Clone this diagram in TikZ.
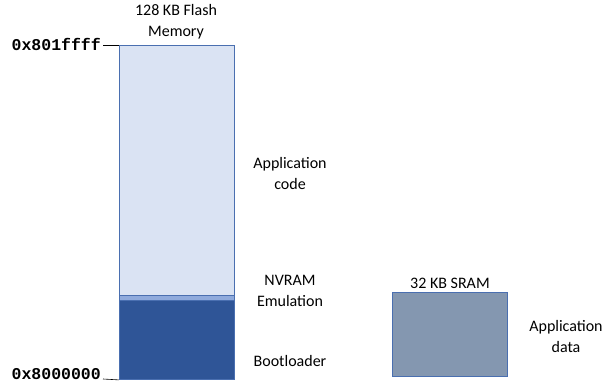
\documentclass[tikz,border=0pt]{standalone}
\usepackage{fontspec}
\setmainfont{Carlito}
\newfontfamily\addrfont{Liberation Mono}
\usetikzlibrary{positioning}

\definecolor{appfill}{HTML}{DAE3F3}
\definecolor{bootfill}{HTML}{2F5597}
\definecolor{nvfill}{HTML}{8FAADC}
\definecolor{sramfill}{HTML}{8497B0}
\definecolor{edgeblue}{HTML}{4A6FB0}

\begin{document}
\begin{tikzpicture}[x=1pt, y=-1pt,
    region/.style={draw=edgeblue, line width=0.9pt, inner sep=0pt, anchor=north west},
    lbl/.style={font=\fontsize{16}{21}\selectfont, align=center},
    addr/.style={font=\addrfont\bfseries\fontsize{16.5}{18}\selectfont, anchor=east, inner sep=2pt}]
    \useasboundingbox (0,0) rectangle (603,383);

    % flash memory map
    \node[region, fill=appfill, minimum width=115pt, minimum height=250pt] (app) at (119,45) {};
    \node[region, fill=nvfill, minimum width=115pt, minimum height=5pt] (nv) at (119,295) {};
    \node[region, fill=bootfill, minimum width=115pt, minimum height=79pt] (boot) at (119,300) {};
    \node[lbl] (flash) at (176,22) {128 KB Flash\\Memory};

    % address ticks
    \coordinate (ttop) at (103,45);
    \coordinate (tbot) at (103,379);
    \draw[line width=0.6pt] (ttop) -- (app.north west);
    \draw[line width=0.6pt] (tbot) -- (boot.south west);
    \node[addr] (hi) at ([yshift=1pt]ttop) {0x801ffff};
    \node[addr] (lo) at ([yshift=5pt]tbot) {0x8000000};

    % region names
    \node[lbl] (appl) at (290,173) {Application\\code};
    \node[lbl] (nvl) at (290,291) {NVRAM\\Emulation};
    \node[lbl] (bootl) at (290,361) {Bootloader};

    % sram
    \node[region, fill=sramfill, minimum width=115pt, minimum height=84pt] (sram) at (392,292) {};
    \node[lbl, above=0pt of sram] (sraml) {32 KB SRAM};
    \node[lbl] (datal) at (566,336) {Application\\data};
\end{tikzpicture}
\end{document}
